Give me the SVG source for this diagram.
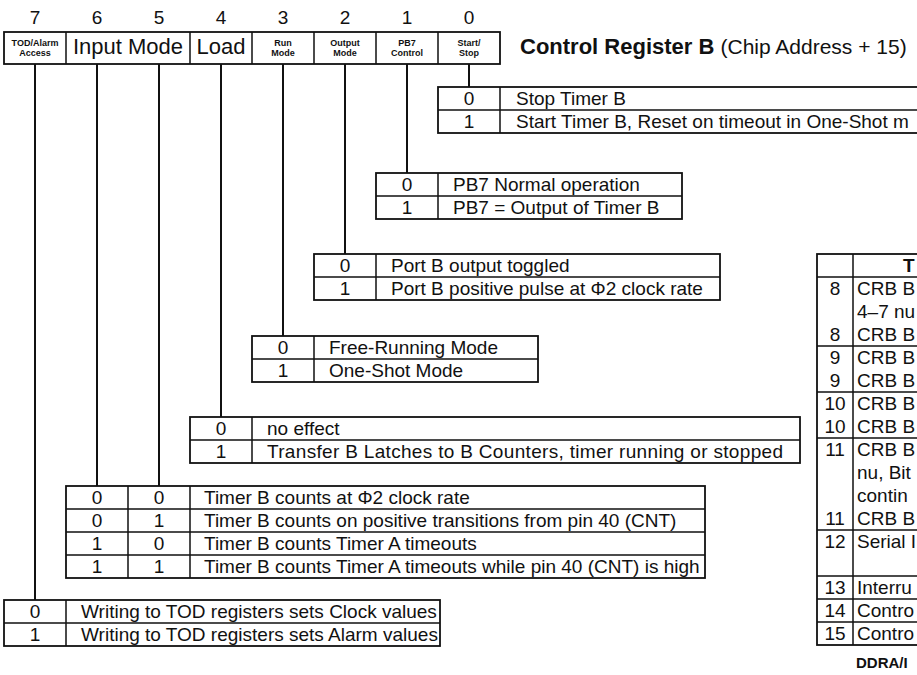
<svg xmlns="http://www.w3.org/2000/svg" width="917" height="675" viewBox="0 0 917 675">
<style>
text{font-family:"Liberation Sans",Arial,sans-serif;fill:#111}
.d{font-size:19px;text-anchor:middle}
.t{font-size:19px}
.n{font-size:19px;text-anchor:middle}
.s{font-size:9px;font-weight:bold;text-anchor:middle}
.h{font-size:22px;text-anchor:middle}
.b{fill:none;stroke:#111;stroke-width:1.8}
.l{stroke:#111;stroke-width:1.5;fill:none}
.c{stroke:#111;stroke-width:2;fill:none}
</style>
<rect width="917" height="675" fill="#fff"/>
<g id="header">
<text class="d" x="35" y="24">7</text><text class="d" x="97" y="24">6</text><text class="d" x="159" y="24">5</text><text class="d" x="221" y="24">4</text><text class="d" x="283" y="24">3</text><text class="d" x="345" y="24">2</text><text class="d" x="407" y="24">1</text><text class="d" x="469" y="24">0</text>
<rect class="b" x="4" y="32" width="496" height="32"/>
<path class="l" d="M66 32V64M190 32V64M252 32V64M314 32V64M376 32V64M438 32V64"/>
<text class="s" x="35" y="46">TOD/Alarm</text><text class="s" x="35" y="56">Access</text>
<text class="h" x="128" y="54">Input Mode</text>
<text class="h" x="221" y="54">Load</text>
<text class="s" x="283" y="46">Run</text><text class="s" x="283" y="56">Mode</text>
<text class="s" x="345" y="46">Output</text><text class="s" x="345" y="56">Mode</text>
<text class="s" x="407" y="46">PB7</text><text class="s" x="407" y="56">Control</text>
<text class="s" x="469" y="46">Start/</text><text class="s" x="469" y="56">Stop</text>
<text x="520" y="54" style="font-size:22px;font-weight:bold">Control Register B <tspan style="font-weight:normal;font-size:21px">(Chip Address + 15)</tspan></text>
</g>
<g id="connectors">
<path class="c" d="M469 64V87M407 64V173M345 64V254M283 64V336M221 64V417M159 64V486M97 64V486M35 64V600"/>
</g>
<g id="bit0">
<rect class="b" x="438" y="87" width="500" height="46"/>
<path class="l" d="M438 110H917M500 87V133"/>
<text class="n" x="469" y="105">0</text><text class="t" x="516" y="105">Stop Timer B</text>
<text class="n" x="469" y="128">1</text><text class="t" x="516" y="128">Start Timer B, Reset on timeout in One-Shot m</text>
</g>
<g id="bit1">
<rect class="b" x="376" y="173" width="306" height="46"/>
<path class="l" d="M376 196H682M438 173V219"/>
<text class="n" x="407" y="191">0</text><text class="t" x="453" y="191">PB7 Normal operation</text>
<text class="n" x="407" y="214">1</text><text class="t" x="453" y="214">PB7 = Output of Timer B</text>
</g>
<g id="bit2">
<rect class="b" x="314" y="254" width="406" height="46"/>
<path class="l" d="M314 277H720M376 254V300"/>
<text class="n" x="345" y="272">0</text><text class="t" x="391" y="272">Port B output toggled</text>
<text class="n" x="345" y="295">1</text><text class="t" x="391" y="295">Port B positive pulse at Φ2 clock rate</text>
</g>
<g id="bit3">
<rect class="b" x="252" y="336" width="286" height="46"/>
<path class="l" d="M252 359H538M314 336V382"/>
<text class="n" x="283" y="354">0</text><text class="t" x="329" y="354">Free-Running Mode</text>
<text class="n" x="283" y="377">1</text><text class="t" x="329" y="377">One-Shot Mode</text>
</g>
<g id="bit4">
<rect class="b" x="190" y="417" width="610" height="46"/>
<path class="l" d="M190 440H800M252 417V463"/>
<text class="n" x="221" y="435">0</text><text class="t" x="267" y="435">no effect</text>
<text class="n" x="221" y="458">1</text><text class="t" x="267" y="458" textLength="516" lengthAdjust="spacing">Transfer B Latches to B Counters, timer running or stopped</text>
</g>
<g id="bit65">
<rect class="b" x="66" y="486" width="639" height="92"/>
<path class="l" d="M66 509H705M66 532H705M66 555H705M128 486V578M190 486V578"/>
<text class="n" x="97" y="504">0</text><text class="n" x="159" y="504">0</text><text class="t" x="204" y="504">Timer B counts at Φ2 clock rate</text>
<text class="n" x="97" y="527">0</text><text class="n" x="159" y="527">1</text><text class="t" x="204" y="527">Timer B counts on positive transitions from pin 40 (CNT)</text>
<text class="n" x="97" y="550">1</text><text class="n" x="159" y="550">0</text><text class="t" x="204" y="550">Timer B counts Timer A timeouts</text>
<text class="n" x="97" y="573">1</text><text class="n" x="159" y="573">1</text><text class="t" x="204" y="573">Timer B counts Timer A timeouts while pin 40 (CNT) is high</text>
</g>
<g id="bit7">
<rect class="b" x="4" y="600" width="436" height="46"/>
<path class="l" d="M4 623H440M66 600V646"/>
<text class="n" x="35" y="618">0</text><text class="t" x="81" y="618">Writing to TOD registers sets Clock values</text>
<text class="n" x="35" y="641">1</text><text class="t" x="81" y="641">Writing to TOD registers sets Alarm values</text>
</g>
<g id="regtable">
<rect class="b" x="817" y="254" width="120" height="391"/>
<path class="l" d="M817 277H917M817 346H917M817 392H917M817 438H917M817 530H917M817 576H917M817 599H917M817 622H917M853 254V645"/>
<text x="903" y="272" style="font-size:19px;font-weight:bold">T</text>
<text class="n" x="835" y="295">8</text><text class="t" x="857" y="295">CRB B</text>
<text class="t" x="857" y="318">4–7 nu</text>
<text class="n" x="835" y="341">8</text><text class="t" x="857" y="341">CRB B</text>
<text class="n" x="835" y="364">9</text><text class="t" x="857" y="364">CRB B</text>
<text class="n" x="835" y="387">9</text><text class="t" x="857" y="387">CRB B</text>
<text class="n" x="835" y="410">10</text><text class="t" x="857" y="410">CRB B</text>
<text class="n" x="835" y="433">10</text><text class="t" x="857" y="433">CRB B</text>
<text class="n" x="835" y="456">11</text><text class="t" x="857" y="456">CRB B</text>
<text class="t" x="857" y="479">nu, Bit</text>
<text class="t" x="857" y="502">contin</text>
<text class="n" x="835" y="525">11</text><text class="t" x="857" y="525">CRB B</text>
<text class="n" x="835" y="548">12</text><text class="t" x="857" y="548">Serial I</text>
<text class="n" x="835" y="594">13</text><text class="t" x="857" y="594">Interru</text>
<text class="n" x="835" y="617">14</text><text class="t" x="857" y="617">Contro</text>
<text class="n" x="835" y="640">15</text><text class="t" x="857" y="640">Contro</text>
<text x="856" y="668" style="font-size:15px;font-weight:bold">DDRA/I</text>
</g>
</svg>
